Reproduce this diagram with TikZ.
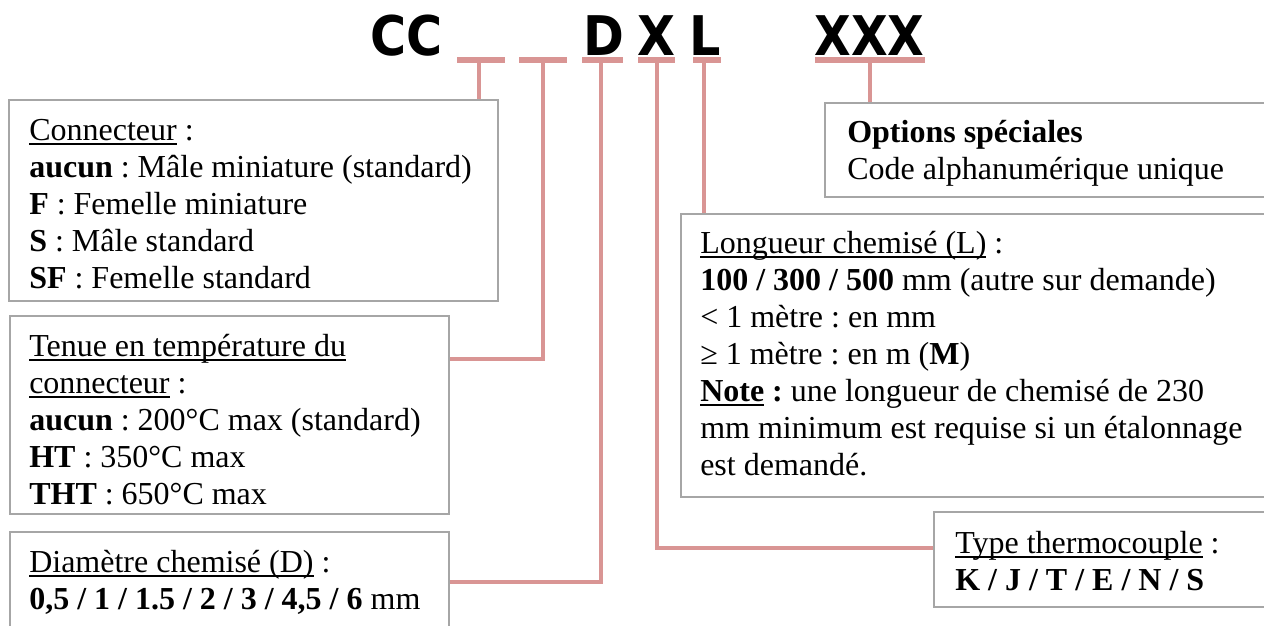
\documentclass[tikz,border=0pt]{standalone}
\usepackage{fontspec}
\setmainfont{Liberation Serif}
\newfontfamily\hdrfont{DejaVu Sans}
\usetikzlibrary{fit}
\definecolor{linkpink}{RGB}{217,149,148}
\definecolor{boxgray}{RGB}{166,166,166}
\newsavebox\ulbox
\newcommand{\myul}[1]{\sbox\ulbox{#1}\rlap{\rule[-3.3pt]{\wd\ulbox}{1.1pt}}\usebox\ulbox}
\frenchspacing
\begin{document}
\begin{tikzpicture}[x=0.75pt,y=-0.75pt,
  hdr/.style={font=\hdrfont\bfseries\fontsize{41}{41}\selectfont, inner sep=0, anchor=base},
  bar/.style={fill=linkpink, draw=none, inner sep=0, minimum height=4.5pt},
  box/.style={draw=boxgray, line width=1.1pt, inner sep=0},
  conn/.style={draw=linkpink, line width=3pt},
  txt/.style={anchor=north west, inner sep=0, align=left, yshift=19.5pt,
    font=\fontsize{24}{27.75}\selectfont}]
\useasboundingbox (0,0) rectangle (1264,625);
\fill[white] (0,0) rectangle (1264,625);

% header code
\node[hdr] (hcc) at (406.5,55) {\scalebox{0.9}[1]{CC}};
\node[hdr] (hd)  at (603.5,55) {\scalebox{0.9}[1]{D}};
\node[hdr] (hx)  at (656.5,55) {\scalebox{0.9}[1]{X}};
\node[hdr] (hl)  at (705,55)   {\scalebox{0.9}[1]{L}};
\node[hdr] (hxxx) at (869.5,55) {\scalebox{0.87}[1]{XXX}};

% bars
\node[bar, minimum width=36pt]   (b1) at (481,60) {};
\node[bar, minimum width=36pt]   (b2) at (543,60) {};
\node[bar, minimum width=30.75pt] (b3) at (602.5,60) {};
\node[bar, minimum width=27.75pt] (b4) at (656.5,60) {};
\node[bar, minimum width=21pt]   (b5) at (707,60) {};
\node[bar, minimum width=82.5pt] (b6) at (870,60) {};

% boxes
\node[box, fit={(9,100) (498,301)}]   (box1) {};
\node[box, fit={(10,316) (449,514)}]  (box2) {};
\node[box, fit={(10,532) (449,640)}]  (box3) {};
\node[box, fit={(825,103) (1272,197)}] (box4) {};
\node[box, fit={(681,214) (1272,497)}] (box5) {};
\node[box, fit={(934,512) (1272,607)}] (box6) {};

% texts
\node[txt] (t1) at (29,140) {\strut\myul{Connecteur} :\\
\textbf{aucun} : Mâle miniature (standard)\\
\textbf{F} : Femelle miniature\\
\textbf{S} : Mâle standard\\
\textbf{SF} : Femelle standard};

\node[txt] (t2) at (29,356) {\strut\myul{Tenue en température du}\\
\myul{connecteur} :\\
\textbf{aucun} : 200°C max (standard)\\
\textbf{HT} : 350°C max\\
\textbf{THT} : 650°C max};

\node[txt] (t3) at (29,572) {\strut\myul{Diamètre chemisé (D)} :\\
\textbf{0,5 / 1 / 1.5 / 2 / 3 / 4,5 / 6} mm};

\node[txt] (t4) at (847,142) {\strut\textbf{Options spéciales}\\
Code alphanumérique unique};

\node[txt] (t5) at (700,253) {\strut\myul{Longueur chemisé (L)} :\\
\textbf{100 / 300 / 500} mm (autre sur demande)\\
< 1 mètre : en mm\\
≥ 1 mètre : en m (\textbf{M})\\
\textbf{\myul{Note} :} une longueur de chemisé de 230\\
mm minimum est requise si un étalonnage\\
est demandé.};

\node[txt] (t6) at (955,553) {\strut\myul{Type thermocouple} :\\
\textbf{K / J / T / E / N / S}};

% connectors
\coordinate (y2) at (0,359);
\coordinate (y3) at (0,582);
\coordinate (y4) at (0,548);
\draw[conn] ([xshift=-1.5pt]b1.south) -- ([xshift=-1.5pt]b1.south |- box1.north);
\draw[conn] (b2.south) |- (box2.east |- y2);
\draw[conn] ([xshift=-1pt]b3.south) |- (box3.east |- y3);
\draw[conn] (b4.south) |- (box6.west |- y4);
\draw[conn] ([xshift=-2.5pt]b5.south) -- ([xshift=-2.5pt]b5.south |- box5.north);
\draw[conn] (b6.south) -- (b6.south |- box4.north);
\end{tikzpicture}
\end{document}
